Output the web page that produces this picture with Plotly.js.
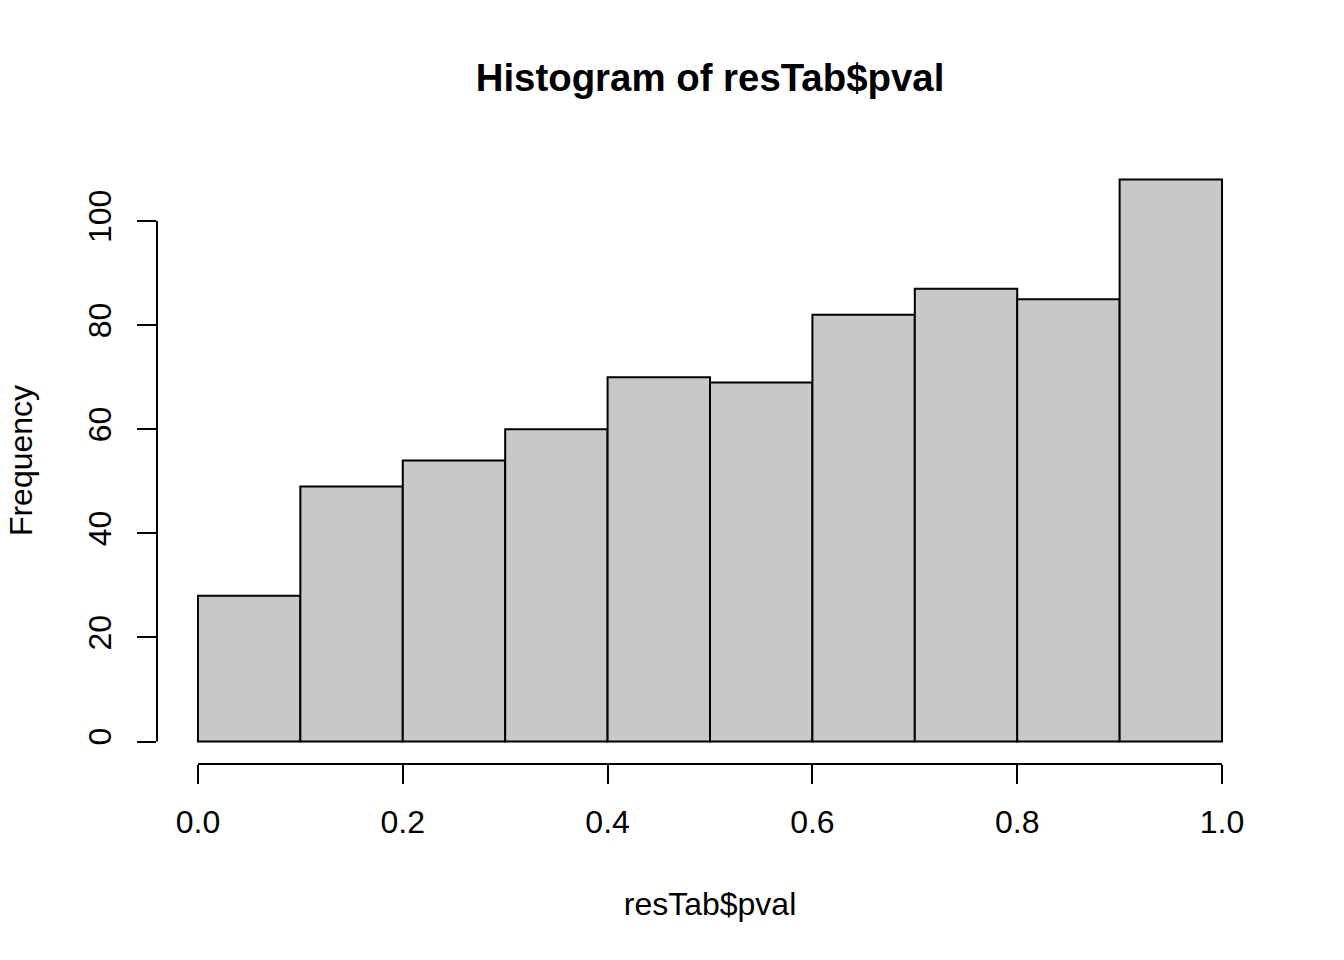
<!DOCTYPE html>
<html>
<head>
<meta charset="utf-8">
<script src="https://cdn.plot.ly/plotly-3.0.1.min.js"></script>
<style>html,body{margin:0;padding:0;background:#fff;}#chart{width:1344px;height:960px;}</style>
</head>
<body>
<div id="chart"></div>
<script>
// Histogram bin edges and counts
const binEdges = [0.0, 0.1, 0.2, 0.3, 0.4, 0.5, 0.6, 0.7, 0.8, 0.9, 1.0];
const counts = [28, 49, 54, 60, 70, 69, 82, 87, 85, 108];
const xTickVals = [0, 0.2, 0.4, 0.6, 0.8, 1.0];
const xTickText = ["0.0", "0.2", "0.4", "0.6", "0.8", "1.0"];
const yTickVals = [0, 20, 40, 60, 80, 100];
const yTickText = ["0", "20", "40", "60", "80", "100"];

const mids = counts.map((_, i) => (binEdges[i] + binEdges[i + 1]) / 2);
const widths = counts.map((_, i) => binEdges[i + 1] - binEdges[i]);

// R-style range: data range extended by 4%
const xMin = binEdges[0], xMax = binEdges[binEdges.length - 1];
const yMin = 0, yMax = Math.max(...counts);
const xPad = (xMax - xMin) * 0.04, yPad = (yMax - yMin) * 0.04;

const font = "Liberation Sans, Arial, Helvetica, sans-serif";

const trace = {
  type: "bar",
  x: mids,
  y: counts,
  width: widths,
  marker: { color: "#C8C8C8", line: { color: "#000", width: 2 } },
  hoverinfo: "x+y"
};

const layout = {
  width: 1344, height: 960,
  margin: { l: 157, r: 81, t: 157, b: 196 },
  paper_bgcolor: "#fff", plot_bgcolor: "#fff",
  showlegend: false,
  bargap: 0,
  font: { family: font, size: 32, color: "#000" },
  title: {
    text: "Histogram of resTab$pval",
    font: { family: font, size: 38.4, color: "#000", weight: "bold" },
    x: 0.5, xref: "paper", xanchor: "center",
    y: 1 - 78 / 960, yref: "container", yanchor: "middle"
  },
  xaxis: {
    range: [xMin - xPad, xMax + xPad],
    showgrid: false, zeroline: false, showline: false,
    ticks: "outside", ticklen: 19, tickwidth: 2, tickcolor: "#000",
    tickvals: xTickVals, ticktext: xTickText,
    tickfont: { family: font, size: 32, color: "#000" },
    ticklabelstandoff: 11,
    title: { text: "resTab$pval", font: { family: font, size: 32, color: "#000" }, standoff: 53 },
    automargin: false, fixedrange: true
  },
  yaxis: {
    range: [yMin - yPad, yMax + yPad],
    showgrid: false, zeroline: false, showline: false,
    ticks: "outside", ticklen: 19, tickwidth: 2, tickcolor: "#000",
    tickvals: yTickVals, ticktext: yTickText, tickangle: -90,
    tickfont: { family: font, size: 32, color: "#000" },
    ticklabelstandoff: 13,
    title: { text: "Frequency", font: { family: font, size: 32, color: "#000" }, standoff: 40 },
    automargin: false, fixedrange: true
  },
  shapes: [
    { type: "line", xref: "x", yref: "paper",
      x0: xTickVals[0], x1: xTickVals[xTickVals.length - 1], y0: 0, y1: 0,
      line: { color: "#000", width: 2 } },
    { type: "line", xref: "paper", yref: "y",
      x0: 0, x1: 0, y0: yTickVals[0], y1: yTickVals[yTickVals.length - 1],
      line: { color: "#000", width: 2 } }
  ]
};

Plotly.newPlot("chart", [trace], layout, { displayModeBar: false, staticPlot: true });
</script>
</body>
</html>
